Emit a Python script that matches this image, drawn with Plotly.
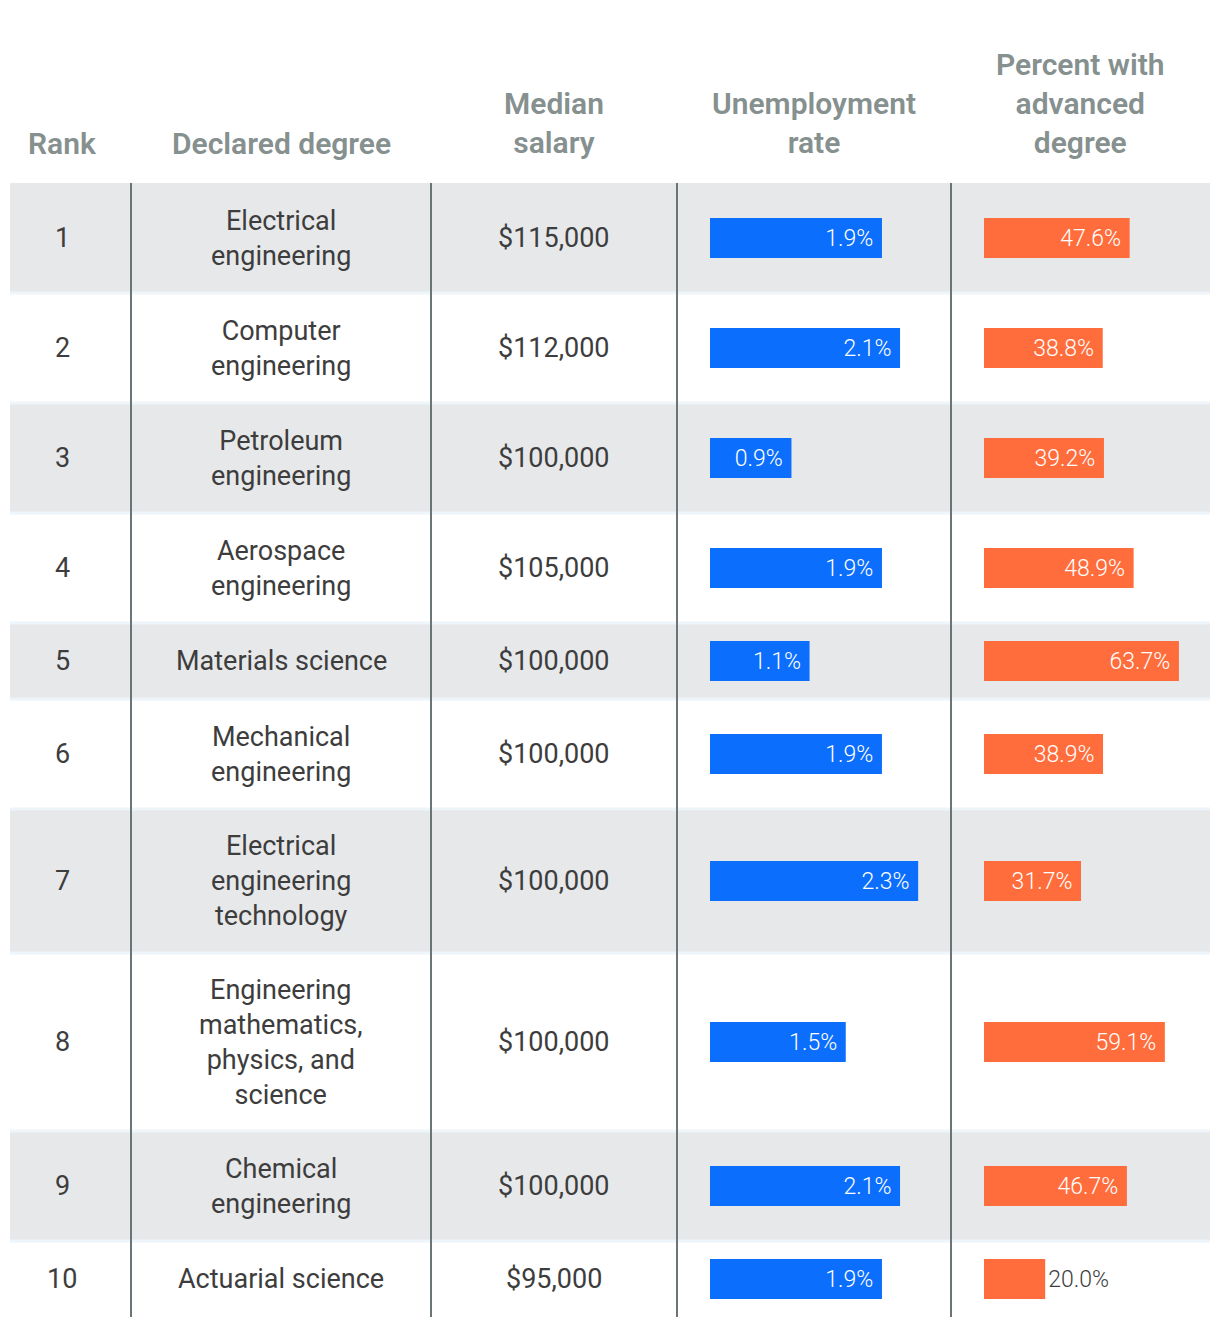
import plotly.graph_objects as go

# ---- data ----
ranks = ["1", "2", "3", "4", "5", "6", "7", "8", "9", "10"]
degrees = [
    "Electrical<br>engineering",
    "Computer<br>engineering",
    "Petroleum<br>engineering",
    "Aerospace<br>engineering",
    "Materials science",
    "Mechanical<br>engineering",
    "Electrical<br>engineering<br>technology",
    "Engineering<br>mathematics,<br>physics, and<br>science",
    "Chemical<br>engineering",
    "Actuarial science",
]
salaries = ["$115,000", "$112,000", "$100,000", "$105,000", "$100,000",
            "$100,000", "$100,000", "$100,000", "$100,000", "$95,000"]
unemployment = [1.9, 2.1, 0.9, 1.9, 1.1, 1.9, 2.3, 1.5, 2.1, 1.9]
advanced = [47.6, 38.8, 39.2, 48.9, 63.7, 38.9, 31.7, 59.1, 46.7, 20.0]
headers = ["Rank", "Declared degree", "Median<br>salary",
           "Unemployment<br>rate", "Percent with<br>advanced<br>degree"]

# ---- layout constants ----
W, H = 1220, 1326
OFF = 8  # page body margin
FW, FH = W - OFF, H - OFF
TOP = 183
LEFT, RIGHT = 10, 1210
col_centers = [62, 281, 554, 814, 1080]
sep_x = [131, 431, 677, 951]
BLUE = "#0B6EFC"
ORANGE = "#FF6D3C"
GRAY_ROW = "#E7E8EA"
TEXT = "#3D3D3D"
HEAD = "#85908F"
FONT = "Roboto"
NB = "\u00a0"


def dom(a, b):
    return [(a - OFF) / FW, (b - OFF) / FW]


# row geometry from the number of text lines
row_h = [42 + 34 * (d.count("<br>") + 1) for d in degrees]
row_top = []
y = TOP
for h in row_h:
    row_top.append(y)
    y += h
BOTTOM = y
row_mid = [t + h / 2 for t, h in zip(row_top, row_h)]

fig = go.Figure()

# unemployment bars
fig.add_trace(go.Bar(
    x=unemployment, y=row_mid, orientation="h", width=40,
    marker=dict(color=BLUE, line=dict(width=0)),
    text=[f"{v:.1f}%{NB}" for v in unemployment],
    textposition="inside", insidetextanchor="end",
    textfont=dict(family=FONT, size=23, color="white", weight=300),
    xaxis="x2", yaxis="y", hoverinfo="skip", cliponaxis=False,
))
# advanced degree bars
adv_pos = ["outside" if v < 25 else "inside" for v in advanced]
adv_txt = [f"{v:.1f}%" if p == "outside" else f"{v:.1f}%{NB}"
           for v, p in zip(advanced, adv_pos)]
fig.add_trace(go.Bar(
    x=advanced, y=row_mid, orientation="h", width=40,
    marker=dict(color=ORANGE, line=dict(width=0)),
    text=adv_txt,
    textposition=adv_pos, insidetextanchor="end",
    insidetextfont=dict(family=FONT, size=23, color="white", weight=300),
    outsidetextfont=dict(family=FONT, size=23, color=TEXT, weight=300),
    xaxis="x3", yaxis="y", hoverinfo="skip", cliponaxis=False,
))

shapes = []
for i, (t, h) in enumerate(zip(row_top, row_h)):
    if i % 2 == 0:
        shapes.append(dict(type="rect", xref="x", yref="y", x0=LEFT, x1=RIGHT,
                           y0=t, y1=t + h, fillcolor=GRAY_ROW, line=dict(width=0),
                           layer="below"))
for t in row_top[1:]:
    shapes.append(dict(type="line", xref="x", yref="y", x0=LEFT, x1=RIGHT,
                       y0=t, y1=t, line=dict(color="#EDF4FA", width=3), layer="below"))
for sx in sep_x:
    shapes.append(dict(type="line", xref="x", yref="y", x0=sx, x1=sx,
                       y0=TOP, y1=BOTTOM, line=dict(color="#6B7577", width=2),
                       layer="below"))

annotations = []
for c, htxt in zip(col_centers, headers):
    n = htxt.count("<br>")
    annotations.append(dict(x=c, y=143 - 20 * n, xref="x", yref="y", text=htxt,
                            showarrow=False, xanchor="center", yanchor="middle",
                            font=dict(family=FONT, size=30, color=HEAD, weight=600)))
for i in range(len(ranks)):
    for c, txt in zip(col_centers[:3], [ranks[i], degrees[i], salaries[i]]):
        annotations.append(dict(x=c, y=row_mid[i], xref="x", yref="y", text=txt,
                                showarrow=False, xanchor="center", yanchor="middle",
                                font=dict(family=FONT, size=27, color=TEXT)))

fig.update_layout(
    width=FW, height=FH, margin=dict(l=0, r=0, t=0, b=0),
    paper_bgcolor="white", plot_bgcolor="rgba(0,0,0,0)",
    showlegend=False, barmode="overlay",
    uniformtext=dict(minsize=23, mode="show"),
    xaxis=dict(domain=[0, 1], range=[OFF, W], visible=False, fixedrange=True),
    xaxis2=dict(domain=dom(710, 951), range=[0, 241 / 90.5], visible=False,
                anchor="y", fixedrange=True),
    xaxis3=dict(domain=dom(984, 1210), range=[0, 226 / 3.06], visible=False,
                anchor="y", fixedrange=True),
    yaxis=dict(domain=[0, 1], range=[H, OFF], visible=False, fixedrange=True),
    shapes=shapes, annotations=annotations,
)

fig.write_html("out.html")
